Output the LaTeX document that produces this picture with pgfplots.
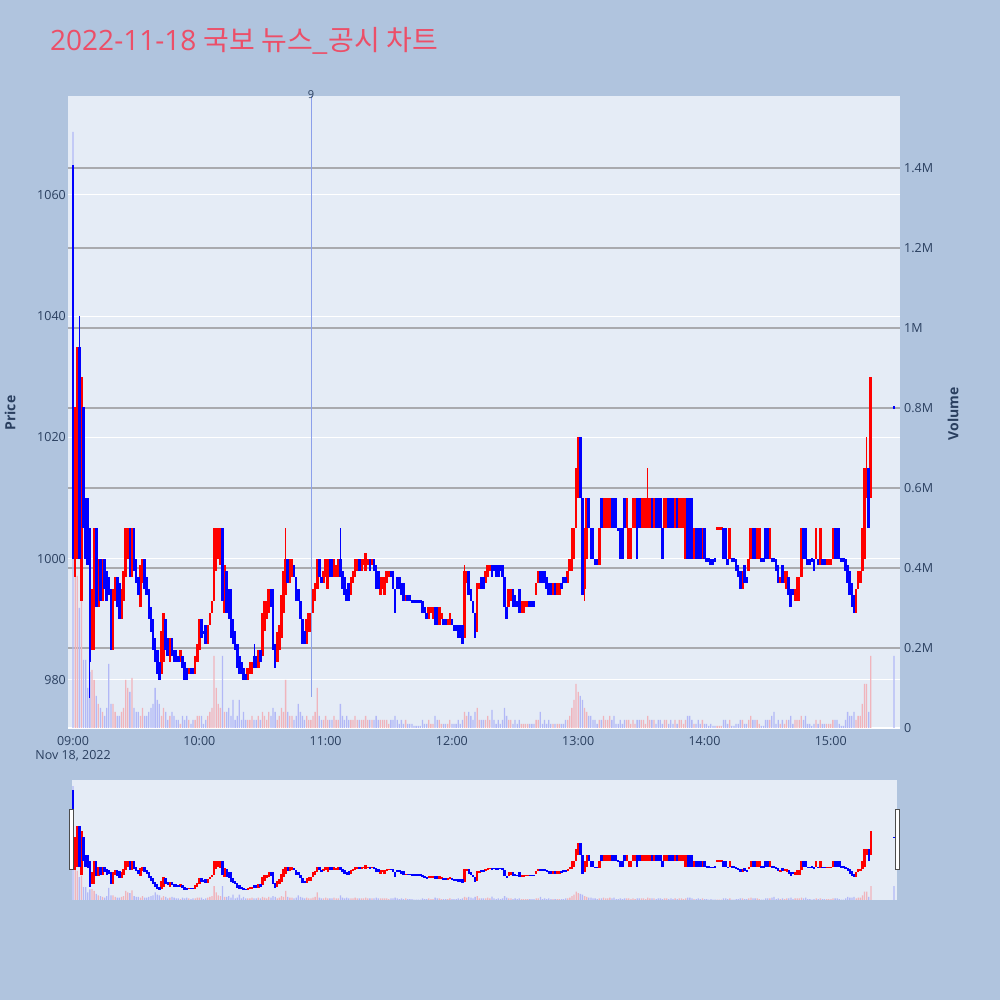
\documentclass[border=0pt]{standalone}
\usepackage{fontspec}
\usepackage{pgfplots}
\usepackage{pgfplotstable}
\pgfplotsset{compat=1.18}
\setmainfont{Open Sans}
\newfontfamily\kr{Noto Sans CJK KR}
\definecolor{bgc}{HTML}{B0C4DE}
\definecolor{plotbg}{HTML}{E5ECF6}
\definecolor{tickc}{HTML}{2A3F5F}
\definecolor{gridgray}{HTML}{A9AAAE}
\definecolor{titlec}{RGB}{236,79,104}
\definecolor{cred}{RGB}{255,0,0}
\definecolor{cblue}{RGB}{0,0,255}
\definecolor{vred}{RGB}{240,180,188}
\definecolor{vblue}{RGB}{178,184,246}
\definecolor{annot}{RGB}{140,160,235}

\pgfplotstableread{
t o c v
0 1065 1000 1.49
1 997 1025 0.40
2 1000 1035 0.38
3 1035 1000 0.30
4 993 1030 0.32
5 1025 1005 0.17
6 1010 1000 0.17
7 1010 999 0.10
8 1005 983 0.14
9 985 995 0.145
10 985 1005 0.12
11 1005 992 0.08
12 992 1000 0.06
13 1000 993 0.05
14 993 1000 0.04
15 1000 995 0.03
16 998 993 0.05
17 997 994 0.16
18 995 985 0.06
19 985 995 0.06
20 993 997 0.04
21 997 992 0.03
22 996 990 0.03
23 990 995 0.04
24 993 998 0.05
25 997 1005 0.12
26 1000 1005 0.10
27 1005 997 0.09
28 997 1005 0.125
29 1005 998 0.05
30 1000 996 0.04
31 997 994 0.04
32 992 999 0.03
33 996 1000 0.05
34 1000 995 0.03
35 997 994 0.03
36 995 990 0.04
37 992 988 0.05
38 990 985 0.06
39 987 983 0.10
40 985 981 0.07
41 983 980 0.06
42 981 988 0.03
43 983 991 0.05
44 990 985 0.04
45 987 984 0.02
46 983 987 0.03
47 987 984 0.04
48 985 983 0.03
49 985 983 0.02
50 984 983 0.02
51 983 985 0.01
52 984 982 0.03
53 983 980 0.02
54 982 980 0.03
55 981 982 0.02
56 982 981 0.01
57 982 981 0.02
58 981 984 0.02
59 983 986 0.03
60 985 990 0.03
61 990 987 0.03
62 988 987.6 0.01
63 989 986 0.02
64 986 989 0.03
65 989 991 0.04
66 991 993 0.05
67 993 1005 0.18
68 998 1005 0.10
69 1000 1005 0.06
70 999 1005 0.05
71 1005 993 0.18
72 991 999 0.04
73 998 991 0.04
74 995 990 0.05
75 995 987 0.03
76 990 986 0.07
77 988 985 0.02
78 986 982 0.03
79 984 981 0.07
80 983 981 0.02
81 982 980 0.04
82 981 980 0.02
83 980 982 0.02
84 981 983 0.02
85 981 983 0.03
86 984 982 0.02
87 984 982 0.02
88 982 985 0.03
89 985 983 0.02
90 984 991 0.04
91 988 993 0.03
92 990 993 0.02
93 991 995 0.04
94 995 992 0.03
95 995 985 0.05
96 986 982 0.04
97 983 988 0.02
98 985 989 0.03
99 987 994 0.05
100 991 998 0.04
101 994 1000 0.12
102 1000 996 0.04
103 996 1000 0.03
104 997 1000 0.03
105 999 997 0.02
106 997 993 0.03
107 995 993 0.06
108 993 990 0.04
109 990 986 0.03
110 988 986 0.02
111 986 990 0.03
112 988 991 0.02
113 988 991 0.02
114 991 995 0.03
115 993 996 0.04
116 995 1000 0.10
117 1000 997 0.03
118 997 996 0.02
119 996 998 0.02
120 997 1000 0.03
121 995 1000 0.02
122 1000 997 0.02
123 1000 997 0.02
124 997 1000 0.03
125 997 999 0.02
126 997 1000 0.02
127 1000 997 0.06
128 998 995 0.03
129 997 994 0.02
130 995 993 0.03
131 996 993 0.02
132 994 997 0.02
133 996 998 0.02
134 997 1000 0.03
135 998 1000 0.02
136 1000 998 0.02
137 998 1000 0.02
138 999 1000 0.02
139 998 1001 0.03
140 999 1000 0.02
141 1000 998 0.02
142 999 1000 0.02
143 1000 998 0.02
144 999 995 0.03
145 998 995 0.02
146 994 997 0.02
147 995 997 0.02
148 994 997 0.02
149 996 998 0.02
150 997 998 0.01
151 998 997 0.02
152 998 995 0.02
153 995 991 0.03
154 997 995 0.02
155 997 995 0.01
156 996 994 0.02
157 996 993 0.01
158 993 994 0.02
159 994 993 0.01
160 994 993 0.01
161 993 993 0.01
162 993 993 0.005
163 993 993 0.005
164 993 993 0.005
165 993 993 0.005
166 993 991 0.02
167 992 991 0.01
168 991 990 0.01
169 990 992 0.02
170 991 992 0.01
171 990 992 0.01
172 992 989 0.03
173 992 989 0.02
174 989 992 0.02
175 990 991 0.01
176 990 989 0.01
177 990 989 0.01
178 989 990 0.01
179 989 991 0.02
180 990 989 0.01
181 989 988 0.01
182 989 988 0.01
183 989 987 0.02
184 989 987 0.01
185 989 986 0.02
186 987 998 0.04
187 996 998 0.03
188 998 994 0.04
189 995 993 0.03
190 993 991 0.02
191 991 987 0.04
192 988 996 0.05
193 995 996 0.02
194 997 995 0.02
195 997 995 0.02
196 996 998 0.02
197 997 999 0.03
198 998 999 0.02
199 999 997 0.045
200 999 998 0.02
201 999 997 0.01
202 999 997 0.02
203 999 998 0.01
204 999 997 0.02
205 997 992 0.05
206 992 990 0.03
207 992 995 0.02
208 993 995 0.02
209 995 992 0.01
210 994 992 0.02
211 993 992 0.01
212 995 991 0.02
213 991 993 0.01
214 991 993 0.01
215 992 993 0.01
216 992 993 0.01
217 993 992 0.01
218 993 992 0.01
219 993 992 0.01
220 994 996 0.02
221 996 998 0.02
222 998 996 0.04
223 998 996 0.01
224 998 996 0.02
225 997 995 0.01
226 996 994 0.02
227 996 994 0.01
228 994 996 0.01
229 996 994 0.01
230 994 996 0.01
231 994 996 0.01
232 996 995 0.01
233 997 996 0.01
234 997 996 0.02
235 996 998 0.02
236 998 1000 0.03
237 998 1005 0.05
238 1000 1005 0.07
239 1005 1015 0.11
240 1010 1020 0.09
241 1020 1010 0.08
242 1010 994 0.07
243 995 1005 0.05
244 1000 1010 0.04
245 1010 1005 0.03
246 1005 1000 0.03
247 1005 1000 0.02
248 1000 999 0.02
249 1000 999 0.01
250 999 1005 0.02
251 1010 1005 0.02
252 1005 1010 0.03
253 1005 1010 0.02
254 1005 1010 0.02
255 1005 1010 0.03
256 1010 1005 0.02
257 1010 1005 0.03
258 1010 1005 0.01
259 1005 1004.6 0.01
260 1005 1000 0.02
261 1005 1000 0.01
262 1010 1005 0.02
263 1005 1010 0.02
264 1000 1005 0.02
265 1000 1005 0.01
266 1005 1010 0.02
267 1005 1010 0.01
268 1010 1000 0.02
269 1010 1005 0.02
270 1005 1010 0.02
271 1005 1010 0.02
272 1005 1010 0.01
273 1005 1010 0.03
274 1005 1010 0.02
275 1010 1005 0.02
276 1005 1010 0.02
277 1010 1005 0.01
278 1010 1005 0.02
279 1010 1005 0.02
280 1005 1000 0.01
281 1005 1010 0.02
282 1005 1010 0.02
283 1010 1005 0.01
284 1010 1005 0.02
285 1010 1005 0.01
286 1005 1010 0.02
287 1010 1005 0.01
288 1005 1010 0.02
289 1005 1010 0.02
290 1005 1010 0.01
291 1000 1010 0.02
292 1010 1000 0.03
293 1010 1000 0.03
294 1010 1000 0.02
295 1000 1005 0.01
296 1005 1000 0.01
297 1005 1000 0.02
298 1005 1000 0.01
299 1000 1005 0.02
300 1005 1000 0.01
301 1000 999.6 0.01
302 1000 999.6 0.005
303 1000 999 0.01
304 1000 999 0.005
305 1000 999.6 0.005
306 1005 1005.1 0.005
307 1005 1005.1 0.005
308 1005 1005.1 0.005
309 1005 1000 0.02
310 1005 1000 0.02
311 1000 999 0.01
312 1000 1005 0.02
313 1000 999.6 0.005
314 1000 999.6 0.005
315 1000 998 0.01
316 999 997 0.01
317 998 995 0.02
318 995 998 0.02
319 999 996 0.01
320 997 996 0.01
321 998 1000 0.02
322 1000 1005 0.03
323 1005 1000 0.02
324 1005 1000 0.02
325 1000 1005 0.02
326 1000 1005 0.01
327 1000 999.6 0.005
328 1000 999.6 0.005
329 1005 1000 0.02
330 1005 1000 0.02
331 1000 1005 0.02
332 1000 999.6 0.03
333 1000 999.6 0.04
334 1000 998 0.01
335 999 996 0.02
336 996 997 0.01
337 999 996 0.02
338 996 998 0.01
339 995 998 0.02
340 997 994 0.02
341 995 992 0.03
342 995 994 0.01
343 993 995 0.02
344 993 997 0.02
345 993 997 0.02
346 997 1005 0.03
347 1005 1000 0.02
348 1005 1000 0.03
349 1000 999 0.01
350 1000 999 0.01
351 1000 999.6 0.005
352 1000 998 0.01
353 1000 1005 0.02
354 1000 999 0.01
355 999 1005 0.02
356 1000 999 0.01
357 1000 999 0.01
358 999 1000 0.01
359 999 1000 0.01
360 999 1000 0.01
361 1000 1005 0.02
362 1005 1000 0.02
363 1005 1000 0.02
364 1005 1000 0.01
365 1000 999.6 0.005
366 1000 999.6 0.005
367 1000 998 0.02
368 999 996 0.04
369 998 994 0.03
370 996 992 0.03
371 994 991 0.04
372 991 995 0.02
373 995 998 0.03
374 996 998 0.03
375 998 1005 0.06
376 1000 1015 0.11
377 1010 1015 0.11
378 1015 1005 0.04
379 1010 1030 0.18
390 1025 1025 0.18
}\candles

\pgfplotstableread{
t lo hi
101 994 1005
186 987 999
243 993 1005
273 1005 1015
377 1010 1020
}\wickR

\pgfplotstableread{
t lo hi
3 1000 1040
8 977 1005
86 982 986
127 997 1005
}\wickB

\pgfplotsset{
  mainpos/.style={scale only axis, width=832pt, height=632pt, at={(68pt,272pt)}, anchor=south west, xmin=-2.4, xmax=392.9},
  slidepos/.style={scale only axis, width=825pt, height=120pt, at={(72pt,100pt)}, anchor=south west, xmin=-0.5, xmax=391.4},
  tickfont/.style={font=\fontsize{12.5}{14.5}\selectfont, text=tickc},
  candleup/.style={draw=none, mark=none, restrict expr to domain={\thisrow{c}-\thisrow{o}}{0.00001:100000},
    error bars/.cd, y dir=both, y explicit, error mark=none, error bar style={draw=cred, line width=#1}},
  candledn/.style={draw=none, mark=none, restrict expr to domain={\thisrow{c}-\thisrow{o}}{-100000:0},
    error bars/.cd, y dir=both, y explicit, error mark=none, error bar style={draw=cblue, line width=#1}},
  wick/.style={draw=none, mark=none, error bars/.cd, y dir=both, y explicit, error mark=none,
    error bar style={draw=#1, line width=1pt}},
  volup/.style={ybar, bar width=#1, bar shift=0pt, fill=vred, draw=none, restrict expr to domain={\thisrow{c}-\thisrow{o}}{0.00001:100000}},
  voldn/.style={ybar, bar width=#1, bar shift=0pt, fill=vblue, draw=none, restrict expr to domain={\thisrow{c}-\thisrow{o}}{-100000:0}},
}

\begin{document}
\begin{tikzpicture}
\fill[bgc] (0pt,0pt) rectangle (1000pt,1000pt);

% title
\node[anchor=base west, inner sep=0pt, text=titlec] at (50pt,949.3pt)
  {\fontsize{28}{32}\selectfont 2022-11-18 {\kr\fontsize{28}{32}\selectfont 국보 뉴스\_공시 차트}};

% main: price axis background and labels
\begin{axis}[mainpos, ymin=972.08, ymax=1076.33,
  axis background/.style={fill=plotbg},
  axis lines*=left, axis line style={draw=none}, major tick length=0pt,
  ytick={980,1000,1020,1040,1060}, yticklabels={980,1000,1020,1040,1060},
  ymajorgrids, major grid style={white, line width=1pt},
  xtick={0,60,120,180,240,300,360},
  xticklabels={{09:00\\Nov 18, 2022},10:00,11:00,12:00,13:00,14:00,15:00},
  xticklabel style={tickfont, align=center, yshift=-7pt, inner sep=1pt},
  yticklabel style={tickfont, inner sep=1pt, xshift=-1pt},
]
\addplot[draw=none] coordinates {(0,1000)};
\end{axis}

% main: volume axis
\begin{axis}[mainpos, ymin=0, ymax=1.58,
  axis x line=none, axis y line*=right, y axis line style={draw=none}, major tick length=0pt,
  ytick={0.2,0.4,0.6,0.8,1,1.2,1.4}, yticklabels={0.2M,0.4M,0.6M,0.8M,1M,1.2M,1.4M},
  ymajorgrids, major grid style={gridgray, line width=1.6pt},
  extra y ticks={0}, extra y tick labels={0},
  extra y tick style={major grid style={white, line width=2pt}},
  yticklabel style={tickfont, inner sep=1pt, xshift=3pt},
]
\addplot[volup=1.3pt] table[x=t, y=v] {\candles};
\addplot[voldn=1.3pt] table[x=t, y=v] {\candles};
\end{axis}

% main: candles
\begin{axis}[mainpos, ymin=972.08, ymax=1076.33, hide axis, clip=false]
\addplot[wick=cred] table[x=t, y expr={(\thisrow{lo}+\thisrow{hi})/2}, y error expr={(\thisrow{hi}-\thisrow{lo})/2}] {\wickR};
\addplot[wick=cblue] table[x=t, y expr={(\thisrow{lo}+\thisrow{hi})/2}, y error expr={(\thisrow{hi}-\thisrow{lo})/2}] {\wickB};
\addplot[candleup=2.6pt] table[x=t, y expr={(\thisrow{o}+\thisrow{c})/2}, y error expr={max(abs(\thisrow{c}-\thisrow{o})/2,0.25)}] {\candles};
\addplot[candledn=2.6pt] table[x=t, y expr={(\thisrow{o}+\thisrow{c})/2}, y error expr={max(abs(\thisrow{c}-\thisrow{o})/2,0.25)}] {\candles};
\draw[annot, line width=1pt] (axis cs:113.06,977.2) -- (axis cs:113.06,1076.33);
\node[font=\fontsize{11}{13}\selectfont, text=tickc, inner sep=0pt] at (axis cs:113.06,1076.6) {9};
\end{axis}

% axis titles
\node[rotate=90, text=tickc, font=\fontsize{14}{16}\selectfont\bfseries] at (10pt,587pt) {Price};
\node[rotate=90, text=tickc, font=\fontsize{14}{16}\selectfont\bfseries] at (953pt,586pt) {Volume};

% range slider
\fill[plotbg] (72pt,100pt) rectangle (897pt,220pt);
\begin{axis}[slidepos, ymin=0, ymax=1.57, hide axis]
\addplot[volup=1.3pt] table[x=t, y=v] {\candles};
\addplot[voldn=1.3pt] table[x=t, y=v] {\candles};
\end{axis}
\begin{axis}[slidepos, ymin=971.5, ymax=1073.8, hide axis]
\addplot[candleup=2.4pt] table[x=t, y expr={(\thisrow{o}+\thisrow{c})/2}, y error expr={max(abs(\thisrow{c}-\thisrow{o})/2,0.4)}] {\candles};
\addplot[candledn=2.4pt] table[x=t, y expr={(\thisrow{o}+\thisrow{c})/2}, y error expr={max(abs(\thisrow{c}-\thisrow{o})/2,0.4)}] {\candles};
\end{axis}
\filldraw[fill=white, draw=black!70, line width=1pt] (69pt,130pt) rectangle (73pt,190pt);
\filldraw[fill=white, draw=black!70, line width=1pt] (895pt,130pt) rectangle (899pt,190pt);
\end{tikzpicture}
\end{document}
